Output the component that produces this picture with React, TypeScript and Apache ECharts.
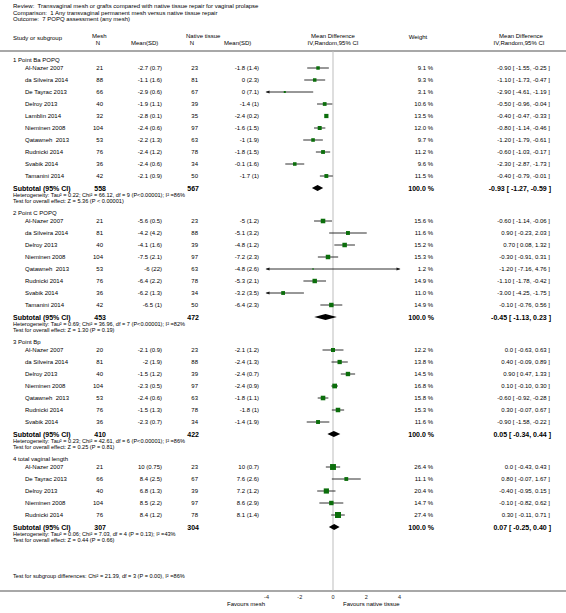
import React, { useEffect, useRef } from "react";
import * as echarts from "echarts";

// ---------- text of the header ----------
const reviewLine = "Review:  Transvaginal mesh or grafts compared with native tissue repair for vaginal prolapse";
const comparisonLine = "Comparison:  1 Any transvaginal permanent mesh versus native tissue repair";
const outcomeLine = "Outcome:  7 POPQ assessment (any mesh)";

// ---------- subgroups ----------
const groupTitles = ["1 Point Ba POPQ", "2 Point C POPQ", "3 Point Bp", "4 total vaginal length"];
const groupSizes = [10, 8, 7, 5];

// ---------- studies (all subgroups in order) ----------
const studyNames = [
  "Al-Nazer 2007", "da Silveira 2014", "De Tayrac 2013", "Delroy 2013", "Lamblin 2014", "Nieminen 2008", "Qatawneh  2013", "Rudnicki 2014", "Svabik 2014", "Tamanini 2014",
  "Al-Nazer 2007", "da Silveira 2014", "Delroy 2013", "Nieminen 2008", "Qatawneh  2013", "Rudnicki 2014", "Svabik 2014", "Tamanini 2014",
  "Al-Nazer 2007", "da Silveira 2014", "Delroy 2013", "Nieminen 2008", "Qatawneh  2013", "Rudnicki 2014", "Svabik 2014",
  "Al-Nazer 2007", "De Tayrac 2013", "Delroy 2013", "Nieminen 2008", "Rudnicki 2014",
];
const meshN = [21, 88, 66, 40, 32, 104, 53, 76, 36, 42, 21, 81, 40, 104, 53, 76, 36, 42, 20, 81, 40, 104, 53, 76, 36, 21, 66, 40, 104, 76];
const meshMean = [-2.7, -1.1, -2.9, -1.9, -2.8, -2.4, -2.2, -2.4, -2.4, -2.1, -5.6, -4.2, -4.1, -7.5, -6, -6.4, -6.2, -6.5, -2.1, -2, -1.5, -2.3, -2.4, -1.5, -2.3, 10, 8.4, 6.8, 8.5, 8.4];
const meshSD = [0.7, 1.6, 0.6, 1.1, 0.1, 0.6, 1.3, 1.2, 0.6, 0.9, 0.5, 4.2, 1.6, 2.1, 22, 2.2, 1.3, 1, 0.9, 1.9, 1.2, 0.5, 0.6, 1.3, 0.7, 0.75, 2.5, 1.3, 2.2, 1.2];
const nativeN = [23, 81, 67, 39, 35, 97, 63, 78, 34, 50, 23, 88, 39, 97, 63, 78, 34, 50, 23, 88, 39, 97, 63, 78, 34, 23, 67, 39, 97, 78];
const nativeMean = [-1.8, 0, 0, -1.4, -2.4, -1.6, -1, -1.8, -0.1, -1.7, -5, -5.1, -4.8, -7.2, -4.8, -5.3, -3.2, -6.4, -2.1, -2.4, -2.4, -2.4, -1.8, -1.8, -1.4, 10, 7.6, 7.2, 8.6, 8.1];
const nativeSD = [1.4, 2.3, 7.1, 1, 0.2, 1.5, 1.9, 1.5, 1.6, 1, 1.2, 3.2, 1.2, 2.3, 2.6, 2.1, 3.5, 2.3, 1.2, 1.3, 0.7, 0.9, 1.1, 1, 1.9, 0.7, 2.6, 1.2, 2.9, 1.4];
const meanDiff = [-0.9, -1.1, -2.9, -0.5, -0.4, -0.8, -1.2, -0.6, -2.3, -0.4, -0.6, 0.9, 0.7, -0.3, -1.2, -1.1, -3.0, -0.1, 0.0, 0.4, 0.9, 0.1, -0.6, 0.3, -0.9, 0.0, 0.8, -0.4, -0.1, 0.3];
const ciLow = [-1.55, -1.73, -4.61, -0.96, -0.47, -1.14, -1.79, -1.03, -2.87, -0.79, -1.14, -0.23, 0.08, -0.91, -7.16, -1.78, -4.25, -0.76, -0.63, -0.09, 0.47, -0.1, -0.92, -0.07, -1.58, -0.43, -0.07, -0.95, -0.82, -0.11];
const ciHigh = [-0.25, -0.47, -1.19, -0.04, -0.33, -0.46, -0.61, -0.17, -1.73, -0.01, -0.06, 2.03, 1.32, 0.31, 4.76, -0.42, -1.75, 0.56, 0.63, 0.89, 1.33, 0.3, -0.28, 0.67, -0.22, 0.43, 1.67, 0.15, 0.62, 0.71];
const weights = [9.1, 9.3, 3.1, 10.6, 13.5, 12.0, 9.7, 11.2, 9.6, 11.5, 15.6, 11.6, 15.2, 15.3, 1.2, 14.9, 11.0, 14.9, 12.2, 13.8, 14.5, 16.8, 15.8, 15.3, 11.6, 26.4, 11.1, 20.4, 14.7, 27.4];

// ---------- subtotals ----------
const subMeshN = [558, 453, 410, 307];
const subNativeN = [567, 472, 422, 304];
const subWeight = [100.0, 100.0, 100.0, 100.0];
const subMD = [-0.93, -0.45, 0.05, 0.07];
const subLow = [-1.27, -1.13, -0.34, -0.25];
const subHigh = [-0.59, 0.23, 0.44, 0.4];
const hetTexts = [
  "Heterogeneity: Tau² = 0.22; Chi² = 66.12, df = 9 (P<0.00001); I² =86%",
  "Heterogeneity: Tau² = 0.69; Chi² = 36.96, df = 7 (P<0.00001); I² =82%",
  "Heterogeneity: Tau² = 0.23; Chi² = 42.61, df = 6 (P<0.00001); I² =86%",
  "Heterogeneity: Tau² = 0.06; Chi² = 7.03, df = 4 (P = 0.13); I² =43%",
];
const overallTexts = [
  "Test for overall effect: Z = 5.36 (P < 0.00001)",
  "Test for overall effect: Z = 1.30 (P = 0.19)",
  "Test for overall effect: Z = 0.25 (P = 0.81)",
  "Test for overall effect: Z = 0.44 (P = 0.66)",
];
const subgroupDiffText = "Test for subgroup differences: Chi² = 21.39, df = 3 (P = 0.00), I² =86%";

// ---------- axis ----------
const xMin = -4;
const xMax = 4;
const xInterval = 2;
const favoursLeft = "Favours mesh";
const favoursRight = "Favours native tissue";

// ---------- layout ----------
const W = 566;
const H = 613;
const FONT = "'Liberation Sans', Arial, Helvetica, sans-serif";
const RULE_Y = 51;
const AXIS_Y = 591;
const FIRST_HEADER_Y = 60;
const HEAD_TO_FIRST = 8;
const ROW = 12;
const SUB_TO_HET = 6.5;
const TEST_TO_NEXT = 12;
const PLOT_L = 266.5;
const PLOT_R = 399.5;
const FS = 6;
const FS_B = 7;

const fmt2 = (v: number) => (v === 0 ? "0.0" : v.toFixed(2));
const ciText = (m: number, l: number, h: number) => `${fmt2(m)} [ ${l.toFixed(2)}, ${h.toFixed(2)} ]`;

function txt(x: number, y: number, text: string, o: { size?: number; bold?: boolean; align?: string } = {}) {
  const align = o.align || "left";
  return {
    type: "text",
    x,
    y,
    silent: true,
    style: {
      text,
      fill: "#000",
      fontSize: o.size || FS,
      fontFamily: FONT,
      fontWeight: o.bold ? "bold" : "normal",
      textAlign: align,
      align,
      textVerticalAlign: "middle",
      verticalAlign: "middle",
    },
  };
}

export default function App() {
  const ref = useRef<HTMLDivElement>(null);

  useEffect(() => {
    if (!ref.current) return;
    const chart = echarts.init(ref.current, null, { renderer: "svg" });

    // compute row layout
    const studyY: number[] = [];
    const headerY: number[] = [];
    const subY: number[] = [];
    let y = FIRST_HEADER_Y;
    let idx = 0;
    groupSizes.forEach((n, g) => {
      headerY[g] = y;
      let sy = y + HEAD_TO_FIRST;
      for (let k = 0; k < n; k++) {
        studyY[idx++] = sy;
        sy += ROW;
      }
      subY[g] = sy;
      y = sy + 2 * SUB_TO_HET + TEST_TO_NEXT;
    });
    const diffY = subY[3] + 2 * SUB_TO_HET + 36;

    const g: any[] = [];
    // header
    g.push(txt(13, 6, reviewLine));
    g.push(txt(13, 12.5, comparisonLine));
    g.push(txt(13, 19, outcomeLine));
    g.push(txt(13, 38, "Study or subgroup"));
    g.push(txt(92, 35.5, "Mesh"));
    g.push(txt(98, 42.5, "N", { align: "center" }));
    g.push(txt(131, 42.5, "Mean(SD)"));
    g.push(txt(186, 35.5, "Native tissue"));
    g.push(txt(192, 42.5, "N", { align: "center" }));
    g.push(txt(224, 42.5, "Mean(SD)"));
    g.push(txt((PLOT_L + PLOT_R) / 2, 36, "Mean Difference", { align: "center" }));
    g.push(txt((PLOT_L + PLOT_R) / 2, 42.5, "IV,Random,95% CI", { align: "center" }));
    g.push(txt(418, 37, "Weight", { align: "center" }));
    g.push(txt(521, 36, "Mean Difference", { align: "center" }));
    g.push(txt(519, 42.5, "IV,Random,95% CI", { align: "center" }));

    // rules
    g.push({ type: "line", silent: true, shape: { x1: 0, y1: RULE_Y, x2: W, y2: RULE_Y }, style: { stroke: "#a8a8a8", lineWidth: 2 } });
    g.push({ type: "line", silent: true, shape: { x1: 0, y1: AXIS_Y, x2: W, y2: AXIS_Y }, style: { stroke: "#a8a8a8", lineWidth: 2 } });

    // study rows
    studyNames.forEach((name, i) => {
      const yy = studyY[i];
      g.push(txt(25, yy, name));
      g.push(txt(103, yy, String(meshN[i]), { align: "right" }));
      g.push(txt(162, yy, `${meshMean[i]} (${meshSD[i]})`, { align: "right" }));
      g.push(txt(198, yy, String(nativeN[i]), { align: "right" }));
      g.push(txt(259, yy, `${nativeMean[i]} (${nativeSD[i]})`, { align: "right" }));
      g.push(txt(433, yy, `${weights[i].toFixed(1)} %`, { align: "right" }));
      g.push(txt(550, yy, ciText(meanDiff[i], ciLow[i], ciHigh[i]), { align: "right" }));
    });

    // group headers & subtotals
    groupTitles.forEach((t, k) => {
      g.push(txt(13, headerY[k], t));
      const sy = subY[k];
      g.push(txt(13, sy, "Subtotal (95% CI)", { bold: true, size: FS_B }));
      g.push(txt(106, sy, String(subMeshN[k]), { bold: true, size: FS_B, align: "right" }));
      g.push(txt(199, sy, String(subNativeN[k]), { bold: true, size: FS_B, align: "right" }));
      g.push(txt(434, sy, `${subWeight[k].toFixed(1)} %`, { bold: true, size: FS_B, align: "right" }));
      g.push(txt(551, sy, ciText(subMD[k], subLow[k], subHigh[k]), { bold: true, size: FS_B, align: "right" }));
      g.push(txt(13, sy + SUB_TO_HET, hetTexts[k], { size: 5.6 }));
      g.push(txt(13, sy + 2 * SUB_TO_HET, overallTexts[k], { size: 5.6 }));
    });
    g.push(txt(13, diffY, subgroupDiffText, { size: 5.6 }));
    g.push(txt(265, AXIS_Y + 13, favoursLeft, { align: "right" }));
    g.push(txt(343, AXIS_Y + 13, favoursRight));

    const studyData = meanDiff.map((m, i) => [m, ciLow[i], ciHigh[i], weights[i], studyY[i]]);
    const subData = subMD.map((m, k) => [m, subLow[k], subHigh[k], subY[k]]);

    const option: any = {
      animation: false,
      backgroundColor: "#fff",
      grid: { left: PLOT_L, right: W - PLOT_R, top: 0, bottom: H - AXIS_Y, containLabel: false },
      xAxis: {
        type: "value",
        min: xMin,
        max: xMax,
        interval: xInterval,
        axisLine: { show: false },
        axisTick: { show: true, inside: true, length: 2.5, lineStyle: { color: "#444", width: 1 } },
        axisLabel: { fontSize: 5.5, color: "#222", fontFamily: FONT, margin: 3 },
        splitLine: { show: false },
      },
      yAxis: { type: "value", min: 0, max: AXIS_Y, inverse: true, show: false },
      series: [
        {
          type: "line",
          silent: true,
          symbol: "none",
          data: [[0, RULE_Y], [0, AXIS_Y]],
          lineStyle: { color: "#bdbdbd", width: 1 },
          z: 1,
        },
        {
          type: "custom",
          silent: true,
          z: 3,
          data: studyData,
          encode: { x: 0, y: 4 },
          renderItem: (_p: any, api: any) => {
            const m = api.value(0), lo = api.value(1), hi = api.value(2), w = api.value(3), yy = api.value(4);
            const cl = Math.max(lo, xMin), ch = Math.min(hi, xMax);
            const a = api.coord([cl, yy]);
            const b = api.coord([ch, yy]);
            const c = api.coord([m, yy]);
            const children: any[] = [
              { type: "line", shape: { x1: a[0], y1: a[1], x2: b[0], y2: b[1] }, style: { stroke: "#1a1a1a", lineWidth: 0.9 } },
            ];
            if (lo < xMin) {
              children.push({ type: "polygon", shape: { points: [[a[0] - 1, a[1]], [a[0] + 3, a[1] - 1.6], [a[0] + 3, a[1] + 1.6]] }, style: { fill: "#1a1a1a" } });
            }
            if (hi > xMax) {
              children.push({ type: "polygon", shape: { points: [[b[0] + 1, b[1]], [b[0] - 3, b[1] - 1.6], [b[0] - 3, b[1] + 1.6]] }, style: { fill: "#1a1a1a" } });
            }
            const s = Math.max(1.3, 1.15 * Math.sqrt(w));
            children.push({ type: "rect", shape: { x: c[0] - s / 2, y: c[1] - s / 2, width: s, height: s }, style: { fill: "#0b6e0b" } });
            return { type: "group", children };
          },
        },
        {
          type: "custom",
          silent: true,
          z: 3,
          data: subData,
          encode: { x: 0, y: 3 },
          renderItem: (_p: any, api: any) => {
            const m = api.value(0), lo = api.value(1), hi = api.value(2), yy = api.value(3);
            const a = api.coord([lo, yy]);
            const b = api.coord([hi, yy]);
            const c = api.coord([m, yy]);
            const h = 3;
            return {
              type: "polygon",
              shape: { points: [[a[0], a[1]], [c[0], c[1] - h], [b[0], b[1]], [c[0], c[1] + h]] },
              style: { fill: "#000" },
            };
          },
        },
      ],
      graphic: { elements: g },
    };

    chart.setOption(option);
    return () => chart.dispose();
  }, []);

  return (
    <div
      ref={ref}
      style={{ position: "absolute", left: 0, top: 0, width: W, height: H, background: "#fff" }}
    />
  );
}
